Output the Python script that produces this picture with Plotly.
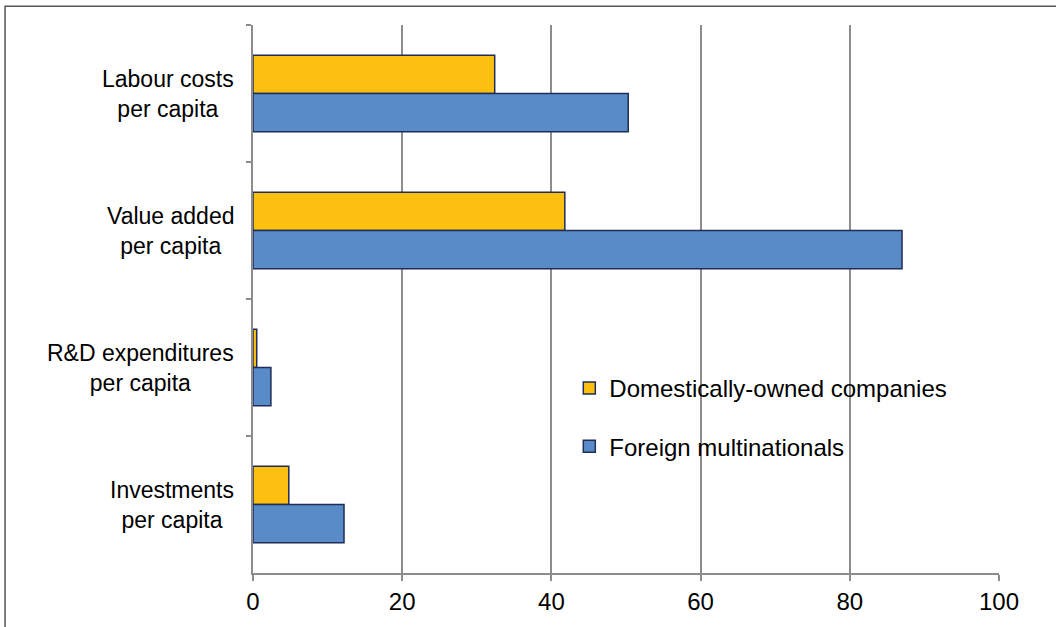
import plotly.graph_objects as go

categories = ["Labour costs<br>per capita", "Value added<br>per capita",
              "R&D expenditures<br>per capita", "Investments<br>per capita"]
domestic = [32.4, 41.8, 0.5, 4.8]
foreign = [50.3, 87.0, 2.4, 12.2]
series_names = ["Domestically-owned companies", "Foreign multinationals"]
x_ticks = [0, 20, 40, 60, 80, 100]

FONT = "Liberation Sans, Arial, Helvetica, sans-serif"
GRAY = "#8c8c8c"
OUTLINE = "#1f2d57"

fig = go.Figure()
fig.add_trace(go.Bar(
    y=categories, x=domestic, orientation="h", name=series_names[0],
    legendgroup="a",
    marker=dict(color="#fdc010", line=dict(color=OUTLINE, width=1.5)),
))
fig.add_trace(go.Bar(
    y=categories, x=foreign, orientation="h", name=series_names[1],
    legendgroup="b",
    marker=dict(color="#588bc8", line=dict(color=OUTLINE, width=1.5)),
))

for c in categories:
    fig.add_annotation(
        x=-0.023, xref="paper", y=c, yref="y", text=c, showarrow=False,
        xanchor="right", align="center",
        font=dict(family=FONT, size=23, color="#000"),
    )

fig.add_shape(type="rect", xref="paper", yref="paper",
              x0=-0.3324, x1=1.2, y0=-0.3, y1=1.034,
              line=dict(color="#555555", width=1.5), layer="below")

fig.update_layout(
    width=1056, height=627,
    margin=dict(l=253, r=57, t=25, b=47),
    paper_bgcolor="white", plot_bgcolor="white",
    barmode="group", bargap=0.44, bargroupgap=0,
    showlegend=True,
    legend=dict(x=0.424, y=0.378, xanchor="left", yanchor="top",
                font=dict(family=FONT, size=24, color="#000"),
                tracegroupgap=24, traceorder="grouped",
                bgcolor="rgba(0,0,0,0)"),
    font=dict(family=FONT, size=23, color="#000"),
    xaxis=dict(range=[0, 100], tickvals=x_ticks, ticktext=[str(t) for t in x_ticks],
               showgrid=True, gridcolor=GRAY, gridwidth=1.5,
               showline=True, linecolor=GRAY, linewidth=2,
               ticks="outside", ticklen=6, tickcolor=GRAY, tickwidth=1.5,
               tickfont=dict(family=FONT, size=24, color="#000"),
               zeroline=False, fixedrange=True),
    yaxis=dict(type="category", autorange="reversed",
               showticklabels=False, tickson="boundaries",
               ticks="outside", ticklen=5, tickcolor=GRAY, tickwidth=1.5,
               showline=True, linecolor=GRAY, linewidth=2,
               showgrid=False, zeroline=False),
)

fig.write_html("out.html",
               config={"displayModeBar": False},
               post_script="document.body.style.margin='0';document.body.style.overflow='hidden';")
